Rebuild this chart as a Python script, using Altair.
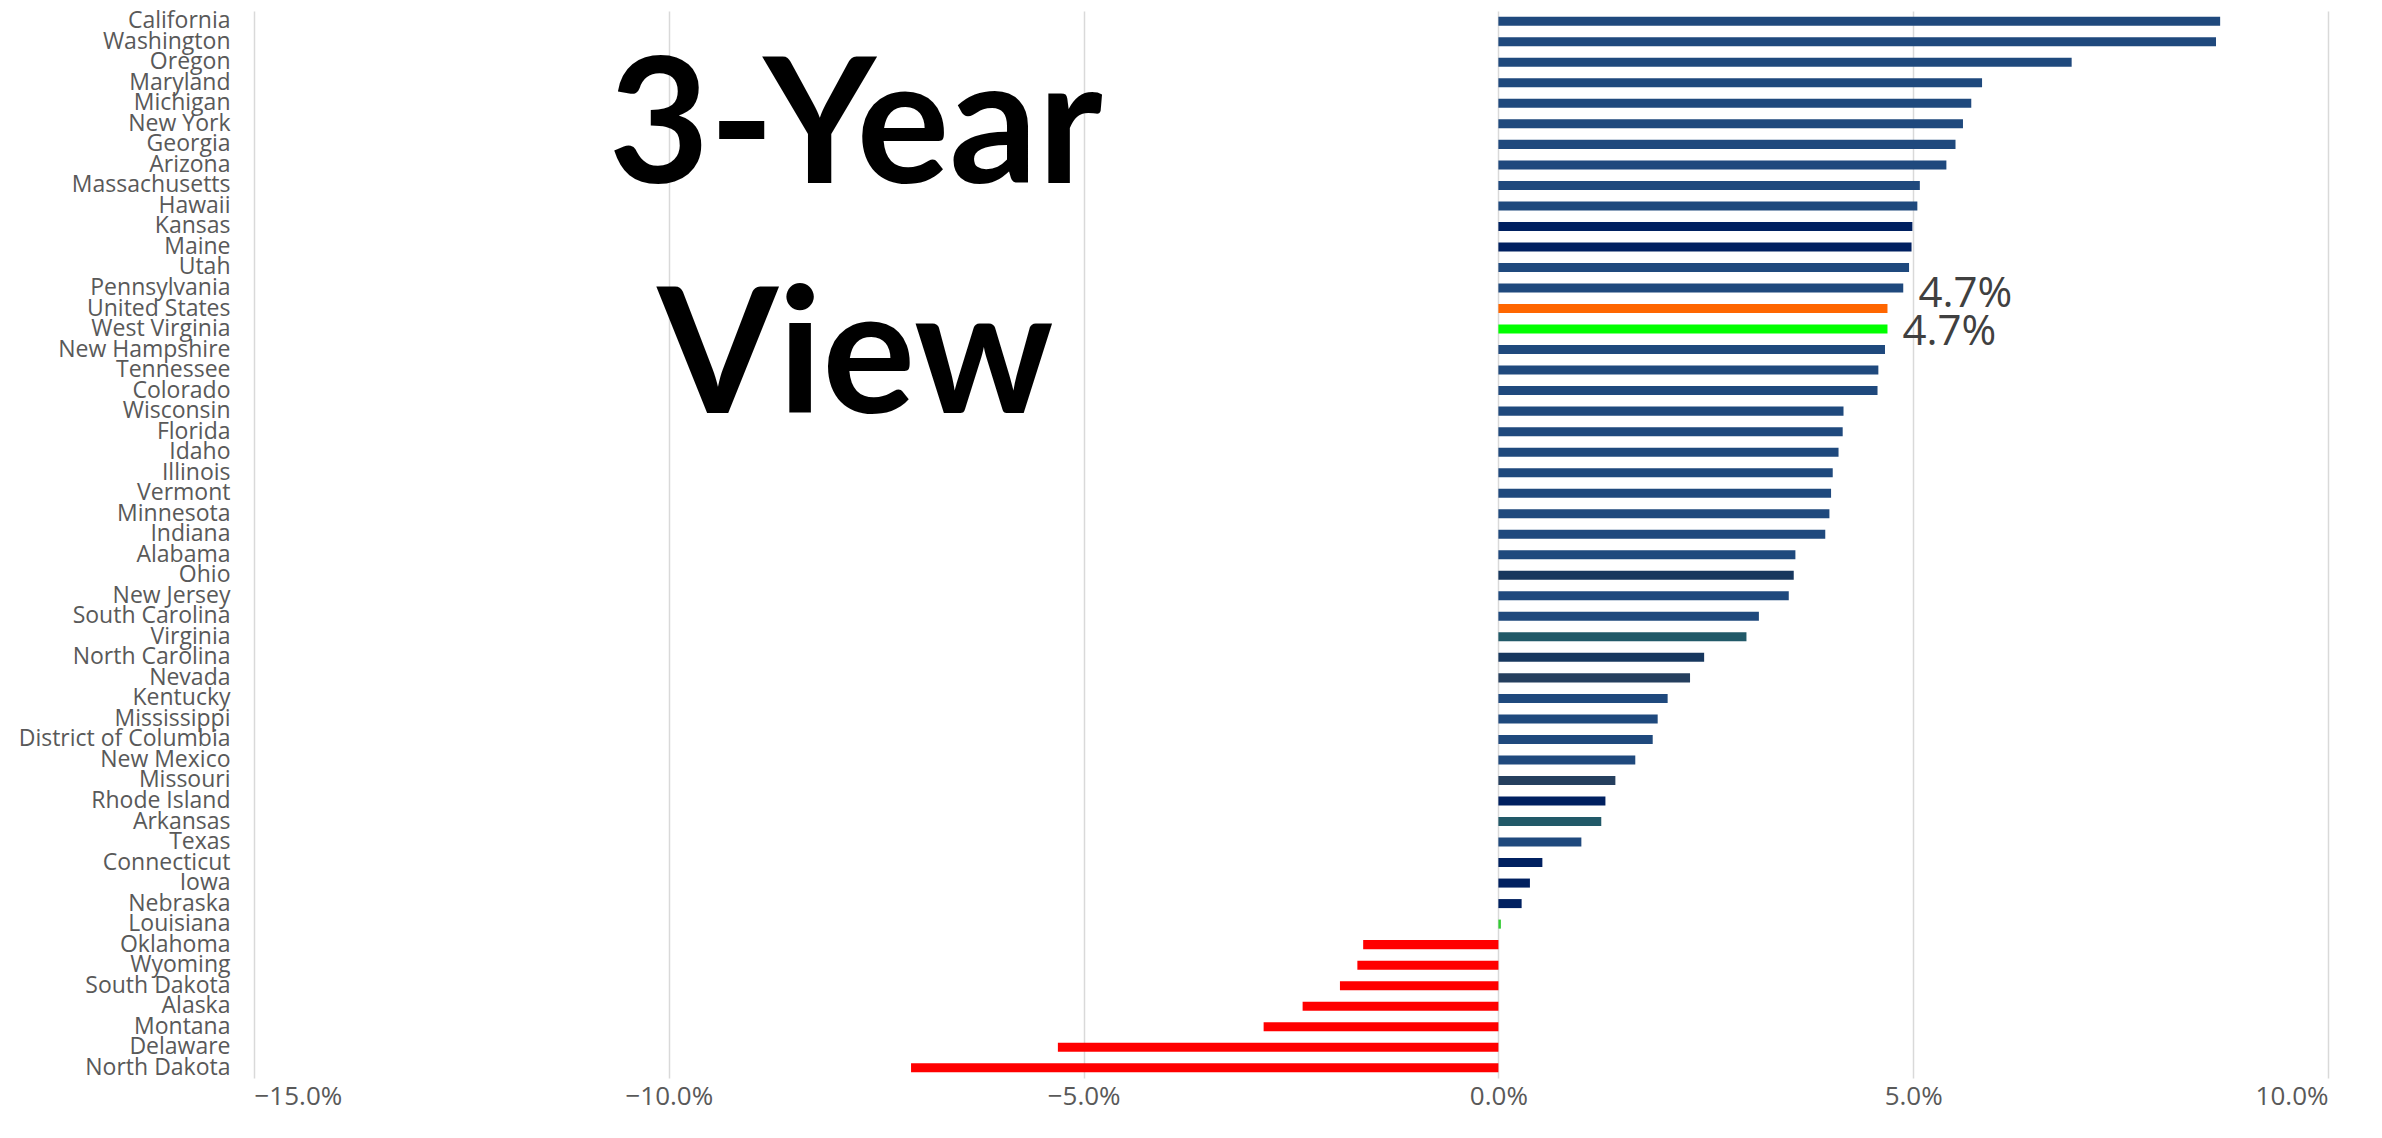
import altair as alt
import pandas as pd

states = ["California", "Washington", "Oregon", "Maryland", "Michigan", "New York",
          "Georgia", "Arizona", "Massachusetts", "Hawaii", "Kansas", "Maine", "Utah",
          "Pennsylvania", "United States", "West Virginia", "New Hampshire", "Tennessee",
          "Colorado", "Wisconsin", "Florida", "Idaho", "Illinois", "Vermont", "Minnesota",
          "Indiana", "Alabama", "Ohio", "New Jersey", "South Carolina", "Virginia",
          "North Carolina", "Nevada", "Kentucky", "Mississippi", "District of Columbia",
          "New Mexico", "Missouri", "Rhode Island", "Arkansas", "Texas", "Connecticut",
          "Iowa", "Nebraska", "Louisiana", "Oklahoma", "Wyoming", "South Dakota",
          "Alaska", "Montana", "Delaware", "North Dakota"]

values_pct = [8.70, 8.65, 6.91, 5.83, 5.70, 5.60, 5.51, 5.40, 5.08, 5.05, 4.99, 4.98,
              4.95, 4.88, 4.69, 4.69, 4.66, 4.58, 4.57, 4.16, 4.15, 4.10, 4.03, 4.01,
              3.99, 3.94, 3.58, 3.56, 3.50, 3.14, 2.99, 2.48, 2.31, 2.04, 1.92, 1.86,
              1.65, 1.41, 1.29, 1.24, 1.00, 0.53, 0.38, 0.28, 0.03, -1.63, -1.70,
              -1.91, -2.36, -2.83, -5.31, -7.08]

BLUE = "#1F497D"
NAVY = "#002060"
DARK = "#17375E"
SLATE = "#253F5E"
TEAL = "#215968"
special_colors = {
    "Kansas": NAVY, "Maine": NAVY, "Rhode Island": NAVY, "Connecticut": NAVY,
    "Iowa": NAVY, "Nebraska": NAVY,
    "Ohio": DARK, "North Carolina": DARK,
    "Nevada": SLATE, "Missouri": SLATE,
    "Virginia": TEAL, "Arkansas": TEAL,
    "United States": "#FF6600", "West Virginia": "#00FF00", "Louisiana": "#33CC33",
}

tick_values = [-0.15, -0.10, -0.05, 0.0, 0.05, 0.10]
title_lines = ["3-Year", "View"]
labelled = ["United States", "West Virginia"]

colors = []
for s, v in zip(states, values_pct):
    if v < 0:
        colors.append("#FF0000")
    else:
        colors.append(special_colors.get(s, BLUE))

df = pd.DataFrame({"state": states, "value": [v / 100 for v in values_pct], "color": colors})

x_scale = alt.Scale(domain=[-0.15, 0.10], nice=False, zero=False)
y_scale = alt.Scale(domain=states, paddingInner=0.56, paddingOuter=0.28)

bars = alt.Chart(df).mark_bar().encode(
    x=alt.X("value:Q", scale=x_scale,
            axis=alt.Axis(values=tick_values, format=".1%", title=None, grid=True,
                          gridColor="#D9D9D9", gridWidth=1.5, domain=False, ticks=False,
                          labelFont="Open Sans", labelFontSize=26, labelColor="#595959",
                          labelPadding=5)),
    y=alt.Y("state:N", scale=y_scale, sort=states,
            axis=alt.Axis(title=None, domain=False, ticks=False, grid=False,
                          labelFont="Open Sans", labelFontSize=23, labelColor="#595959",
                          labelPadding=24, labelOverlap=False, labelLimit=400)),
    color=alt.Color("color:N", scale=None),
)

us_df = df[df["state"] == labelled[0]]
wv_df = df[df["state"] == labelled[1]]

us_label = alt.Chart(us_df).mark_text(
    align="left", baseline="middle", dx=31, dy=-15,
    font="Open Sans", fontSize=42, color="#404040"
).encode(
    x=alt.X("value:Q", scale=x_scale),
    y=alt.Y("state:N", scale=y_scale, sort=states),
    text=alt.Text("value:Q", format=".1%"),
)

wv_label = alt.Chart(wv_df).mark_text(
    align="left", baseline="middle", dx=15, dy=3,
    font="Open Sans", fontSize=42, color="#404040"
).encode(
    x=alt.X("value:Q", scale=x_scale),
    y=alt.Y("state:N", scale=y_scale, sort=states),
    text=alt.Text("value:Q", format=".1%"),
)

title_df = pd.DataFrame({"x": [-0.0775]})
big_title = alt.Chart(title_df).mark_text(
    text=title_lines, align="center", baseline="alphabetic", lineHeight=230,
    font="Lato", fontWeight="bold", fontSize=174, color="#000000"
).encode(
    x=alt.X("x:Q", scale=x_scale),
    y=alt.value(172),
)

chart = alt.layer(bars, us_label, wv_label, big_title).properties(
    width=2074,
    height=1067,
    background="white",
    autosize=alt.AutoSizeParams(type="none"),
    padding={"left": 246, "top": 3, "right": 40, "bottom": 50},
).configure_view(stroke=None)

chart.save("out.html", embed_options={"renderer": "svg", "actions": False})
